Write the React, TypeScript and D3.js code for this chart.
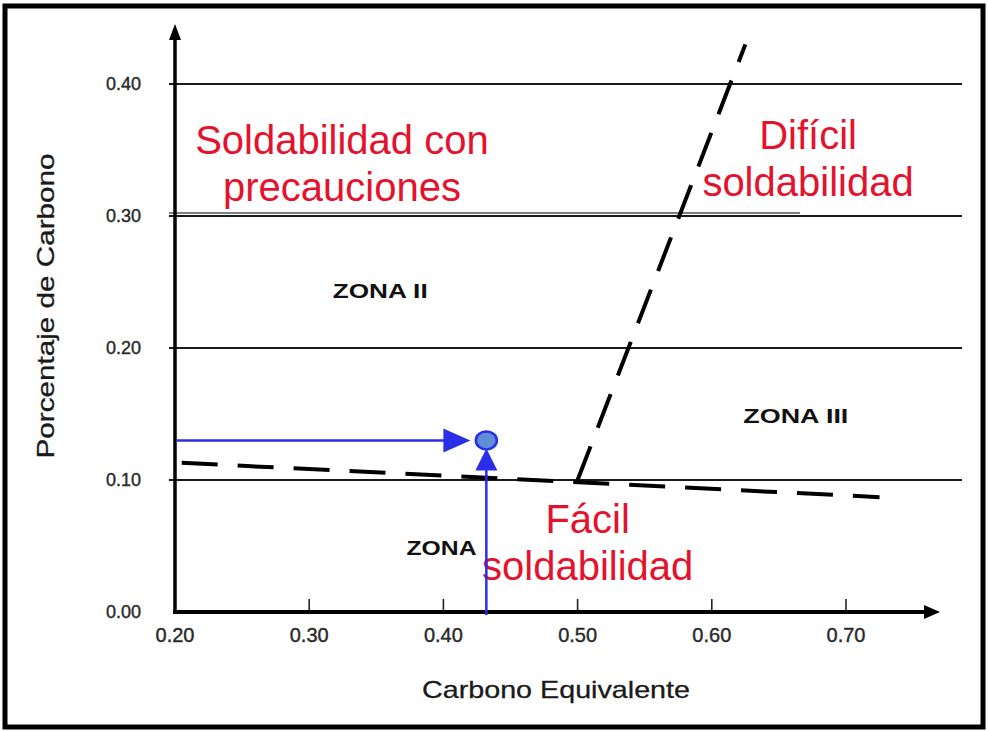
import React from "react";
import * as d3 from "d3";

const W = 988;
const H = 731;

const xTicks = [0.2, 0.3, 0.4, 0.5, 0.6, 0.7];
const xTickLabels = ["0.20", "0.30", "0.40", "0.50", "0.60", "0.70"];
const yTicks = [0.0, 0.1, 0.2, 0.3, 0.4];
const yTickLabels = ["0.00", "0.10", "0.20", "0.30", "0.40"];
const gridValues = [0.1, 0.2, 0.3, 0.4];

// Dashed boundary lines [CE, %C]
const lowerBoundary: [number, number][] = [
  [0.205, 0.113],
  [0.725, 0.087],
];
const steepBoundary: [number, number][] = [
  [0.5, 0.1],
  [0.625, 0.43],
];

// Example steel point
const pointCE = 0.432;
const pointC = 0.13;

const zoneLabels = [
  { text: "ZONA II", x: 0.3175, y: 0.238, len: 95 },
  { text: "ZONA III", x: 0.6235, y: 0.143, len: 105 },
  { text: "ZONA", x: 0.3725, y: 0.043, len: 70 },
];

const redLabels = [
  { lines: ["Soldabilidad con", "precauciones"], x: 0.3244, y: 0.347 },
  { lines: ["Difícil", "soldabilidad"], x: 0.6717, y: 0.351 },
  { lines: ["Fácil", "soldabilidad"], x: 0.5075, y: 0.06 },
];

export default function App() {
  const x = d3.scaleLinear().domain([0.2, 0.7]).range([175, 846]);
  const y = d3.scaleLinear().domain([0, 0.4]).range([612, 84]);
  const line = d3
    .line<[number, number]>()
    .x((d) => x(d[0]))
    .y((d) => y(d[1]));

  const axisX0 = x(0.2);
  const axisY0 = y(0);
  const blue = "#2a2ee6";
  const red = "#e5122d";
  const px = x(pointCE);
  const py = y(pointC);

  return (
    <svg
      width={W}
      height={H}
      style={{ position: "absolute", left: 0, top: 0, background: "#fff" }}
      fontFamily="'Liberation Sans', Arial, sans-serif"
    >
      <rect x={0} y={0} width={W} height={H} fill="#fff" />
      {/* frame */}
      <rect x={5} y={6} width={978} height={721} fill="none" stroke="#000" strokeWidth={5} />

      {/* gridlines */}
      {gridValues.map((v) => (
        <line key={v} x1={axisX0 - 6} x2={962} y1={y(v)} y2={y(v)} stroke="#1a1a1a" strokeWidth={2} />
      ))}
      <line x1={axisX0 - 6} x2={800} y1={y(0.3) - 3} y2={y(0.3) - 3} stroke="#555" strokeWidth={1.4} />

      {/* x ticks */}
      {xTicks.slice(1).map((t) => (
        <line key={t} x1={x(t)} x2={x(t)} y1={axisY0} y2={axisY0 - 13} stroke="#222" strokeWidth={1.6} />
      ))}

      {/* axes */}
      <line x1={axisX0} x2={axisX0} y1={axisY0 + 2} y2={34} stroke="#000" strokeWidth={3.5} />
      <path d={`M${axisX0},24 L${axisX0 - 6},40 L${axisX0 + 6},40 Z`} fill="#000" />
      <line x1={axisX0 - 2} x2={928} y1={axisY0} y2={axisY0} stroke="#000" strokeWidth={4} />
      <path d={`M940,${axisY0} L924,${axisY0 - 7} L924,${axisY0 + 7} Z`} fill="#000" />

      {/* tick labels */}
      {xTicks.map((t, i) => (
        <text
          key={t}
          x={x(t)}
          y={642}
          textAnchor="middle"
          fontSize={20}
          fill="#2a2a2a"
          stroke="#2a2a2a"
          strokeWidth={0.4}
          fontFamily="'Liberation Sans Narrow', 'Arial Narrow', sans-serif"
        >
          {xTickLabels[i]}
        </text>
      ))}
      {yTicks.map((t, i) => (
        <text
          key={t}
          x={141}
          y={y(t) + 6}
          textAnchor="end"
          fontSize={18}
          fill="#2a2a2a"
          stroke="#2a2a2a"
          strokeWidth={0.4}
        >
          {yTickLabels[i]}
        </text>
      ))}

      {/* axis titles */}
      <text
        x={556}
        y={698}
        textAnchor="middle"
        fontSize={24}
        fill="#1a1a1a"
        stroke="#1a1a1a"
        strokeWidth={0.3}
        fontFamily="'Liberation Sans Narrow', 'Arial Narrow', sans-serif"
        textLength={268}
        lengthAdjust="spacingAndGlyphs"
      >
        Carbono Equivalente
      </text>
      <text
        transform="translate(54,306) rotate(-90)"
        textAnchor="middle"
        fontSize={24}
        fill="#1a1a1a"
        stroke="#1a1a1a"
        strokeWidth={0.3}
        textLength={305}
        lengthAdjust="spacingAndGlyphs"
      >
        Porcentaje de Carbono
      </text>

      {/* dashed boundaries */}
      <path d={line(lowerBoundary) || ""} fill="none" stroke="#000" strokeWidth={4} strokeDasharray="36 20" />
      <path d={line(steepBoundary) || ""} fill="none" stroke="#000" strokeWidth={4} strokeDasharray="36 20" />

      {/* zone labels */}
      {zoneLabels.map((z) => (
        <text
          key={z.text}
          x={x(z.x)}
          y={y(z.y)}
          fontSize={20}
          fontWeight="bold"
          fill="#111"
          textLength={z.len}
          lengthAdjust="spacingAndGlyphs"
        >
          {z.text}
        </text>
      ))}

      {/* red labels */}
      {redLabels.map((r) => (
        <text key={r.lines[0]} x={x(r.x)} y={y(r.y)} textAnchor="middle" fontSize={40} fill={red}>
          {r.lines.map((l, i) => (
            <tspan key={i} x={x(r.x)} dy={i === 0 ? 0 : 47}>
              {l}
            </tspan>
          ))}
        </text>
      ))}

      {/* blue arrows */}
      <line x1={axisX0 + 2} x2={px - 40} y1={py} y2={py} stroke={blue} strokeWidth={2.5} />
      <path d={`M${px - 16},${py} L${px - 43},${py - 12} L${px - 43},${py + 12} Z`} fill={blue} />
      <line x1={px} x2={px} y1={axisY0 + 3} y2={py + 26} stroke={blue} strokeWidth={2.5} />
      <path d={`M${px},${py + 8} L${px - 11},${py + 30} L${px + 11},${py + 30} Z`} fill={blue} />
      <ellipse cx={px} cy={py} rx={10.5} ry={9} fill="#5e8fd6" stroke={blue} strokeWidth={2.5} />
    </svg>
  );
}
